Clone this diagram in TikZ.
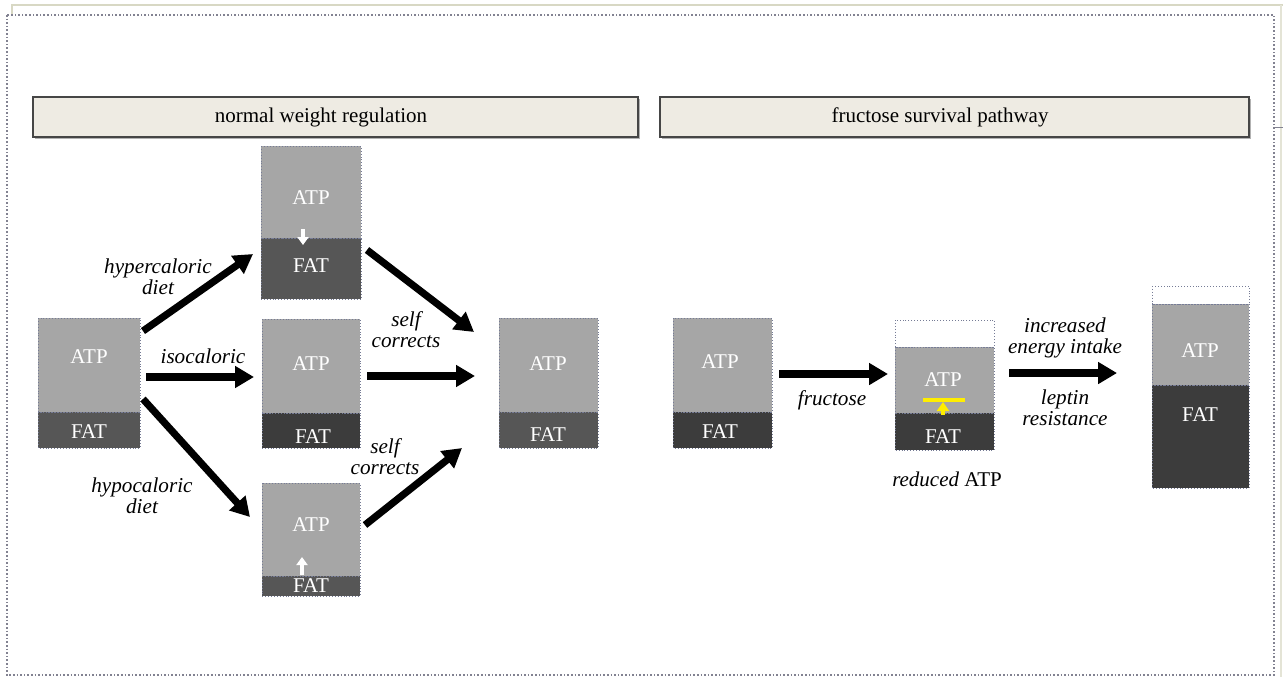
\documentclass[tikz,border=0pt]{standalone}
\usepackage{fontspec}
\setmainfont{Liberation Serif}
\usetikzlibrary{arrows.meta,fit}

\definecolor{atpgray}{RGB}{166,166,166}
\definecolor{fatmid}{RGB}{86,86,86}
\definecolor{fatdark}{RGB}{60,60,60}
\definecolor{headfill}{RGB}{238,235,227}
\definecolor{headedge}{RGB}{70,70,70}
\definecolor{edgeblue}{RGB}{118,124,150}
\definecolor{framegray}{RGB}{130,130,145}
\definecolor{paperline}{RGB}{216,216,196}
\definecolor{marker}{RGB}{255,238,0}

% one stacked bar: name, x1, y1, y-split, x2, y2, colour of the lower part
\newcommand\stackbar[7]{%
  \fill[atpgray] (#2,#3) rectangle (#5,#4);
  \fill[#7] (#2,#4) rectangle (#5,#6);
  \draw[partedge] (#2,#3) rectangle (#5,#4);
  \draw[partedge] (#2,#4) rectangle (#5,#6);
  \node[inner sep=0pt, outer sep=0pt, fit={(#2,#3) (#5,#6)}] (#1) {};
}

\begin{document}
\begin{tikzpicture}[x=0.5pt, y=-0.5pt,
  font=\fontsize{10.5}{10.5}\selectfont,
  partedge/.style={draw=edgeblue, densely dotted, line width=0.45pt},
  inbar/.style={text=white, inner sep=0pt},
  tag/.style={font=\fontsize{10.6}{10.5}\selectfont\itshape, align=center, inner sep=0pt},
  header/.style={fill=headfill, draw=headedge, line width=0.7pt, inner sep=0pt,
                 minimum height=20pt},
  flow/.style={line width=3.6pt, -{Triangle[length=9.5pt, width=10.5pt]}},
  tinyup/.style={line width=1.6pt, -{Triangle[length=4pt, width=5.5pt]}},
  markup/.style={line width=1.8pt, -{Triangle[length=4.5pt, width=6pt]}}
]
\useasboundingbox (0,0) rectangle (1283,677);

% page edges and the dotted outer frame
\draw[paperline, line width=0.8pt] (12,15) -- (12,5) -- (1283,5);
\draw[paperline!70, line width=0.6pt] (1281,5) -- (1281,677);
\draw[framegray, line width=0.5pt] (1274,127) -- (1283,127);
\draw[framegray, densely dotted, line width=0.8pt] (7,15) rectangle (1274,675);

% section headers
\fill[gray!60] (35,99) rectangle (640,139);
\node[header, minimum width=302.5pt] (hdrL) at (335.5,117) {};
\node (hdrLtext) at (321,117) {normal weight regulation};
\fill[gray!60] (662,99) rectangle (1251,139);
\node[header, minimum width=294.5pt] (hdrR) at (954.5,117) {};
\node (hdrRtext) at (940,117) {fructose survival pathway};

% normal weight regulation: bars
\stackbar{A}{38}{318}{412}{140}{448}{fatmid}
\stackbar{B}{261}{146}{238}{361}{299}{fatmid}
\stackbar{C}{262}{319}{413}{360}{448}{fatdark}
\stackbar{D}{262}{483}{576}{360}{596}{fatmid}
\stackbar{E}{499}{318}{412}{598}{448}{fatmid}

\node[inbar] (A-atp) at (89,357) {ATP};
\node[inbar] (A-fat) at (89,432) {FAT};
\node[inbar] (B-atp) at (311,198) {ATP};
\node[inbar] (B-fat) at (311,266) {FAT};
\node[inbar] (C-atp) at (311,364) {ATP};
\node[inbar] (C-fat) at (313,437) {FAT};
\node[inbar] (D-atp) at (311,525) {ATP};
\node[inbar] (D-fat) at (311,586) {FAT};
\node[inbar] (E-atp) at (548,364) {ATP};
\node[inbar] (E-fat) at (548,435) {FAT};

% small white arrows inside the bars
\coordinate (B-s) at (303,229);
\coordinate (B-t) at (303,245);
\draw[white, tinyup] (B-s) -- (B-t);
\coordinate (D-s) at (302,575);
\coordinate (D-t) at (302,557);
\draw[white, tinyup] (D-s) -- (D-t);

% fructose survival pathway: bars
\stackbar{F}{673}{318}{412}{772}{448}{fatdark}
\stackbar{G}{895}{347}{413}{994}{450}{fatdark}
\fill[white] (895,320) rectangle (994,347);
\draw[partedge] (895,320) rectangle (994,347);
\stackbar{H}{1152}{304}{385}{1249}{488}{fatdark}
\fill[white] (1152,286) rectangle (1249,304);
\draw[partedge] (1152,286) rectangle (1249,304);

\node[inbar] (F-atp) at (720,362) {ATP};
\node[inbar] (F-fat) at (720,432) {FAT};
\node[inbar] (G-atp) at (943,380) {ATP};
\node[inbar] (G-fat) at (943,437) {FAT};
\node[inbar] (H-atp) at (1200,351) {ATP};
\node[inbar] (H-fat) at (1200,415) {FAT};

% yellow block marker in the middle bar
\coordinate (bar-l) at (923,400);
\coordinate (bar-r) at (965,400);
\draw[marker, line width=2.3pt] (bar-l) -- (bar-r);
\coordinate (Y-s) at (943,415);
\coordinate (Y-t) at (943,402);
\draw[marker, markup] (Y-s) -- (Y-t);

% arrow end points
\coordinate (a1s) at (143,331);  \coordinate (a1t) at (253,254);
\coordinate (a2s) at (146,377);  \coordinate (a2t) at (254,377);
\coordinate (a3s) at (143,399);  \coordinate (a3t) at (250,517);
\coordinate (a4s) at (367,250);  \coordinate (a4t) at (474,332);
\coordinate (a5s) at (367,376);  \coordinate (a5t) at (475,376);
\coordinate (a6s) at (365,525);  \coordinate (a6t) at (462,448);
\coordinate (a7s) at (779,374);  \coordinate (a7t) at (888,374);
\coordinate (a8s) at (1009,373); \coordinate (a8t) at (1117,373);

\draw[flow] (a1s) -- (a1t);
\draw[flow] (a2s) -- (a2t);
\draw[flow] (a3s) -- (a3t);
\draw[flow] (a4s) -- (a4t);
\draw[flow] (a5s) -- (a5t);
\draw[flow] (a6s) -- (a6t);
\draw[flow] (a7s) -- (a7t);
\draw[flow] (a8s) -- (a8t);

% arrow labels
\node[tag] (l-hyper) at (158,277) {hypercaloric\\diet};
\node[tag] (l-iso) at (203,356) {isocaloric};
\node[tag] (l-hypo) at (142,496) {hypocaloric\\diet};
\node[tag] (l-self1) at (406,330) {self\\corrects};
\node[tag] (l-self2) at (385,457) {self\\corrects};
\node[tag] (l-fru) at (832,400) {fructose};
\node[tag] (l-inc) at (1065,338) {increased\\energy intake};
\node[tag] (l-lep) at (1065,408) {leptin\\resistance};
\node[inner sep=0pt] (l-red) at (947,479) {\textit{reduced} ATP};
\end{tikzpicture}
\end{document}
